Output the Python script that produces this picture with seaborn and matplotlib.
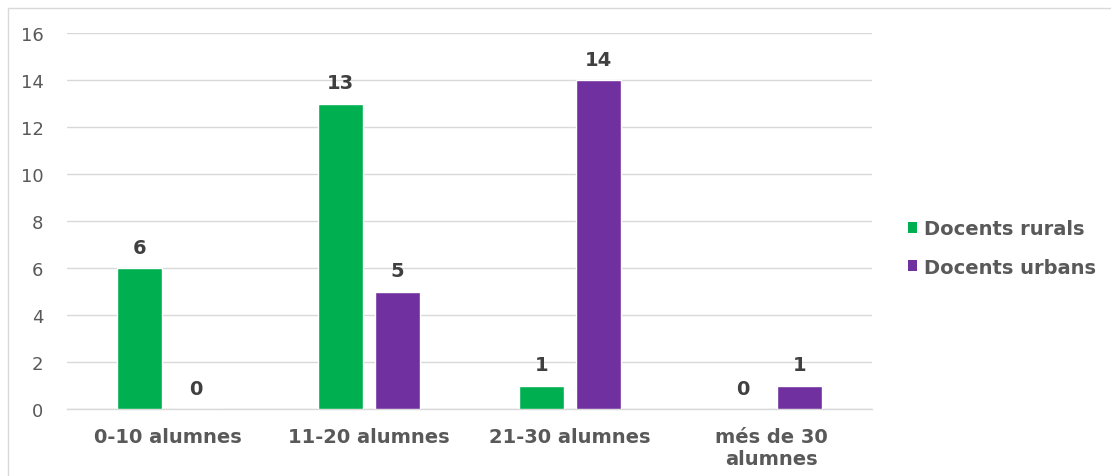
import matplotlib
matplotlib.use("Agg")
import matplotlib.pyplot as plt
import seaborn as sns
import pandas as pd
from matplotlib.patches import Rectangle, Patch

categories = ["0-10 alumnes", "11-20 alumnes", "21-30 alumnes", "més de 30\nalumnes"]
series = ["Docents rurals", "Docents urbans"]
rurals = [6, 13, 1, 0]
urbans = [0, 5, 14, 1]
yticks = [0, 2, 4, 6, 8, 10, 12, 14, 16]

colors = {"Docents rurals": "#00B050", "Docents urbans": "#7030A0"}
text_color = "#595959"

df = pd.DataFrame({
    "categoria": categories * 2,
    "valor": rurals + urbans,
    "grup": [series[0]] * len(categories) + [series[1]] * len(categories),
})

sns.set_theme(style="white")
plt.rcParams["font.family"] = ["DejaVu Sans"]

fig = plt.figure(figsize=(11.11, 4.77), dpi=100)
ax = fig.add_axes([67 / 1111, 1 - 410 / 477, (872 - 67) / 1111, (410 - 34) / 477])

# chart frame (open at the right and bottom)
fig.patches.append(Rectangle((8 / 1111, -0.1), 1.2, 1 - 9 / 477 + 0.1,
                             transform=fig.transFigure, fill=False,
                             edgecolor="#D9D9D9", linewidth=1.0, zorder=0))

sns.barplot(data=df, x="categoria", y="valor", hue="grup", order=categories,
            hue_order=series, palette=colors, width=0.567, gap=0.21,
            ax=ax, legend=False, saturation=1, zorder=3)

ax.set_ylim(0, 16)
ax.set_yticks(yticks)
ax.set_xlim(-0.5, len(categories) - 0.5)
ax.yaxis.grid(True, color="#D9D9D9", linewidth=1.0, zorder=0)
ax.set_axisbelow(True)
for s in ["top", "right", "left"]:
    ax.spines[s].set_visible(False)
ax.spines["bottom"].set_color("#D9D9D9")
ax.spines["bottom"].set_linewidth(1.0)
ax.set_xlabel("")
ax.set_ylabel("")
ax.tick_params(axis="y", length=0, pad=17, labelsize=13, labelcolor=text_color)
ax.tick_params(axis="x", length=0, pad=13, labelcolor=text_color)
for lab in ax.get_xticklabels():
    lab.set_fontsize(14)
    lab.set_fontweight("bold")
    lab.set_linespacing(1.2)

for cont in ax.containers:
    ax.bar_label(cont, labels=[f"{int(v)}" for v in cont.datavalues], padding=8,
                 fontsize=14, fontweight="bold", color="#404040")

handles = [Patch(facecolor=colors[s], edgecolor="none") for s in series]
fig.legend(handles, series, loc="center left", bbox_to_anchor=(890 / 1111, 1 - 249 / 477),
           frameon=False, handlelength=0.5, handleheight=0.5, handletextpad=0.35,
           labelspacing=1.0, prop={"size": 14, "weight": "bold"}, labelcolor=text_color)

fig.savefig("out.png", dpi=100)
